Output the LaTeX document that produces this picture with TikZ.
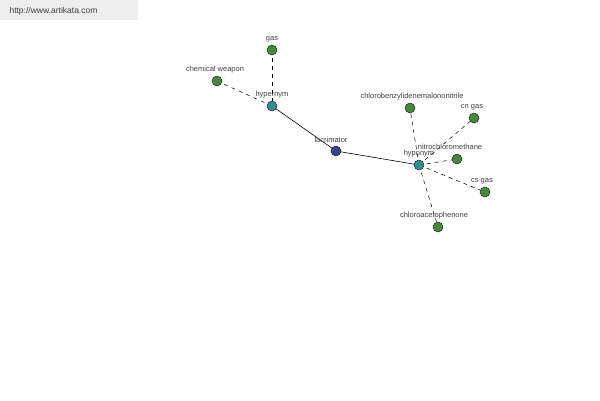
\documentclass[tikz,border=0pt]{standalone}
\usepackage{fontspec}
\setmainfont{Liberation Sans}
\definecolor{leafgreen}{RGB}{72,134,62}
\definecolor{midteal}{RGB}{52,142,142}
\definecolor{rootnavy}{RGB}{58,68,140}
\begin{document}
\begin{tikzpicture}[x=1pt,y=-1pt,
  dot/.style={circle,draw=black!85,line width=0.5pt,minimum size=10pt,inner sep=0pt},
  leaf/.style={dot,fill=leafgreen},
  mid/.style={dot,fill=midteal},
  root/.style={dot,fill=rootnavy},
  lab/.style={font=\fontsize{7.5}{8}\selectfont,text=black!75,inner sep=0pt},
  rel/.style={line width=0.5pt,dash pattern=on 4pt off 4pt},
  link/.style={line width=0.6pt}]
\useasboundingbox (0,0) rectangle (600,400);
\fill[black!7] (0,0) rectangle (138,20);
\node[font=\fontsize{8.5}{9}\selectfont,text=black!75,anchor=west] (url) at (6,11) {http://www.artikata.com};
% coordinates
\coordinate (pgas) at (272,50);
\coordinate (pcw) at (217,81);
\coordinate (phyper) at (272,106);
\coordinate (placr) at (336,151);
\coordinate (phypo) at (419,165);
\coordinate (pcbm) at (410,108);
\coordinate (pcn) at (474,118);
\coordinate (pnit) at (457,159);
\coordinate (pcs) at (485,192);
\coordinate (pcap) at (438,227);
% edges
\draw[rel] (pgas) -- (phyper);
\draw[rel] (pcw) -- (phyper);
\draw[link] (phyper) -- (placr);
\draw[link] (placr) -- (phypo);
\draw[rel] (phypo) -- (pcbm);
\draw[rel] (phypo) -- (pcn);
\draw[rel] (phypo) -- (pnit);
\draw[rel] (phypo) -- (pcs);
\draw[rel] (phypo) -- (pcap);
% nodes
\node[leaf] (gas) at (pgas) {};
\node[leaf] (cw) at (pcw) {};
\node[mid] (hyper) at (phyper) {};
\node[root] (lacr) at (placr) {};
\node[mid] (hypo) at (phypo) {};
\node[leaf] (cbm) at (pcbm) {};
\node[leaf] (cn) at (pcn) {};
\node[leaf] (nit) at (pnit) {};
\node[leaf] (cs) at (pcs) {};
\node[leaf] (cap) at (pcap) {};
% labels
\node[lab] (lgas) at (272,39) {gas};
\node[lab] (lcw) at (215,70) {chemical weapon};
\node[lab] (lhyper) at (272,95) {hypernym};
\node[lab] (llacr) at (331,140) {lacrimator};
\node[lab] (lhypo) at (419,154) {hyponym};
\node[lab] (lcbm) at (412,97) {chlorobenzylidenemalononitrile};
\node[lab] (lcn) at (472,107) {cn gas};
\node[lab] (lnit) at (450,147) {nitrochloromethane};
\node[lab] (lcs) at (482,181) {cs gas};
\node[lab] (lcap) at (434,216) {chloroacetophenone};
\end{tikzpicture}
\end{document}
